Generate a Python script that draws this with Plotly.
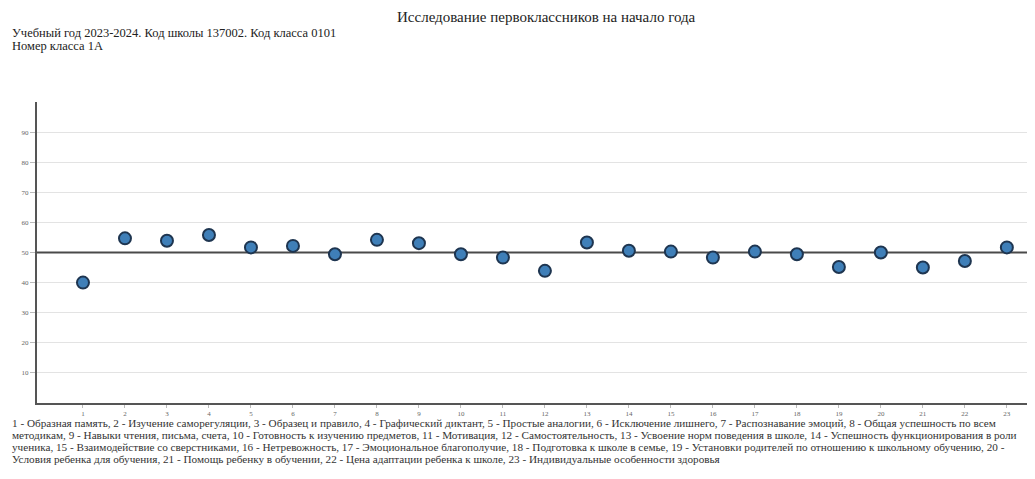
import plotly.graph_objects as go

# номера методик и средние баллы класса
methods = list(range(1, 24))
scores = [40.0, 54.7, 53.9, 55.8, 51.7, 52.2, 49.4, 54.2, 53.1, 49.4, 48.3, 43.9,
          53.3, 50.6, 50.3, 48.3, 50.3, 49.4, 45.2, 50.0, 45.0, 47.2, 51.7]
norm = 50
y_ticks = [10, 20, 30, 40, 50, 60, 70, 80, 90]
x_range = [-0.095, 23.67]

title = "Исследование первоклассников на начало года"
subtitle_lines = [
    "Учебный год 2023-2024. Код школы 137002. Код класса 0101",
    "Номер класса 1А",
]
legend_lines = [
    "1 - Образная память, 2 - Изучение саморегуляции, 3 - Образец и правило, 4 - Графический диктант, 5 - Простые аналогии, 6 - Исключение лишнего, 7 - Распознавание эмоций, 8 - Общая успешность по всем",
    "методикам, 9 - Навыки чтения, письма, счета, 10 - Готовность к изучению предметов, 11 - Мотивация, 12 - Самостоятельность, 13 - Усвоение норм поведения в школе, 14 - Успешность функционирования в роли",
    "ученика, 15 - Взаимодействие со сверстниками, 16 - Нетревожность, 17 - Эмоциональное благополучие, 18 - Подготовка к школе в семье, 19 - Установки родителей по отношению к школьному обучению, 20 -",
    "Условия ребенка для обучения, 21 - Помощь ребенку в обучении, 22 - Цена адаптации ребенка к школе, 23 - Индивидуальные особенности здоровья",
]

FONT = "Liberation Serif, Times New Roman, serif"

fig = go.Figure()

# линия нормы (50 баллов) как трасса: над сеткой, под точками
fig.add_trace(go.Scatter(
    x=x_range, y=[norm, norm], mode="lines",
    line=dict(color="#4a4a4a", width=2), hoverinfo="skip", showlegend=False,
))

fig.add_trace(go.Scatter(
    x=methods, y=scores, mode="markers",
    marker=dict(size=12, color="#3f7fb8", line=dict(color="#1e3550", width=2)),
    showlegend=False,
))

# страница имеет отступ body 8px, поэтому фигура чуть меньше окна
fig.update_layout(
    width=1027, height=471,
    margin=dict(l=29, r=0, t=94, b=76),
    paper_bgcolor="white", plot_bgcolor="white",
    font=dict(family=FONT, color="#333"),
    title=dict(text=title, x=0.524, xanchor="center", y=0.981, yanchor="middle",
               font=dict(size=15, color="#222", family=FONT)),
)

fig.update_xaxes(
    range=x_range, tickvals=methods, ticktext=[str(m) for m in methods],
    showgrid=False, zeroline=False, showline=True, linecolor="#555", linewidth=2,
    ticks="outside", ticklen=3, tickcolor="#bbb",
    tickfont=dict(size=7, color="#666", family=FONT),
)
fig.update_yaxes(
    range=[0, 100], tickvals=y_ticks, showgrid=True, gridcolor="#e3e3e3", gridwidth=1,
    zeroline=False, showline=True, linecolor="#555", linewidth=2,
    ticks="outside", ticklen=5, tickcolor="#bbb",
    tickfont=dict(size=7, color="#666", family=FONT),
)

for i, line in enumerate(subtitle_lines):
    fig.add_annotation(
        text=line, xref="paper", yref="paper", x=-0.027, y=1.229 - i * 0.043,
        xanchor="left", yanchor="middle", align="left", showarrow=False,
        font=dict(size=12.5, color="#222", family=FONT),
    )

for i, line in enumerate(legend_lines):
    fig.add_annotation(
        text=line, xref="paper", yref="paper", x=-0.027, y=-0.066 - i * 0.04,
        xanchor="left", yanchor="middle", align="left", showarrow=False,
        font=dict(size=11.2, color="#333", family=FONT),
    )

fig.write_html("out.html")
